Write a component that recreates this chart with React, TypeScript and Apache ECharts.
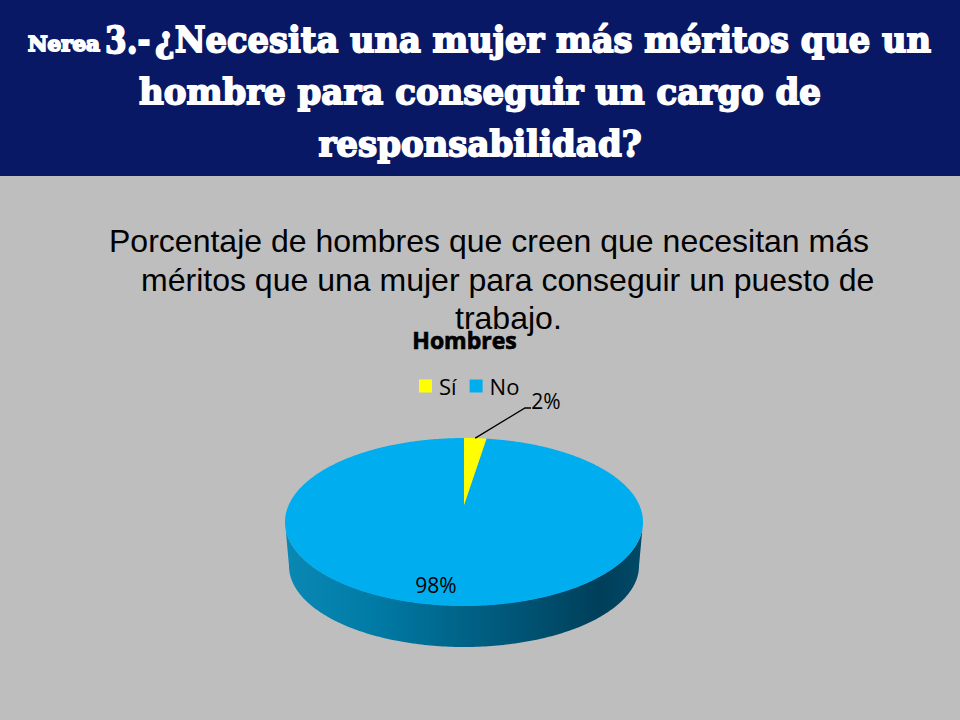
import React, { useEffect, useRef } from "react";
import * as echarts from "echarts";

const categories = ["Sí", "No"];
const seriesValues = [2.45, 97.55];
const seriesColors = ["#FFFF00", "#00AEEF"];
const chartTitle = "Hombres";
const headerLines = ["hombre para conseguir un cargo de", "responsabilidad?"];
const bodyLines = [
  "Porcentaje de hombres que creen que necesitan más",
  "méritos que una mujer para conseguir un puesto de",
  "trabajo.",
];

const total = seriesValues.reduce((a, b) => a + b, 0);
const CX = 464;
const CY = 505;
const K = 0.2024;
const A = 80.56;
const B = 175.3;

function project(angle: number): number[] {
  const u = Math.sin(angle);
  const v = Math.cos(angle);
  const w = 1 + K * v;
  return [CX + (B * u) / w, CY - (A * v) / w];
}

function sliceRange(index: number): number[] {
  let before = 0;
  for (let i = 0; i < index; i++) before += seriesValues[i];
  const start = (before / total) * Math.PI * 2;
  const end = ((before + seriesValues[index]) / total) * Math.PI * 2;
  return [start, end];
}

function slicePoints(start: number, end: number): number[][] {
  const pts: number[][] = [[CX, CY]];
  const n = Math.max(8, Math.ceil((end - start) / 0.01));
  for (let i = 0; i <= n; i++) pts.push(project(start + ((end - start) * i) / n));
  return pts;
}

function wallPoints(): number[][] {
  const rx = 179;
  const ry = 83.5;
  const ey = 522;
  const lowRx = 175;
  const lowRy = 81;
  const lowY = 566;
  const pts: number[][] = [];
  for (let i = 0; i <= 180; i++) {
    const t = (Math.PI * i) / 180;
    pts.push([CX + rx * Math.cos(t), ey + ry * Math.sin(t)]);
  }
  for (let i = 180; i >= 0; i--) {
    const t = (Math.PI * i) / 180;
    pts.push([CX + lowRx * Math.cos(t), lowY + lowRy * Math.sin(t)]);
  }
  return pts;
}

function percent(index: number): string {
  return Math.round((seriesValues[index] / total) * 100) + "%";
}

const labelFont = '21px "Open Sans"';

function renderYes(params: any, api: any) {
  const [s, e] = sliceRange(0);
  const mid = project((s + e) / 2);
  return {
    type: "group",
    children: [
      { type: "polygon", shape: { points: slicePoints(s, e) }, style: { fill: api.visual("color") } },
      {
        type: "polyline",
        shape: { points: [mid, [525, 408], [531, 408]] },
        style: { stroke: "#000000", fill: "none", lineWidth: 1.3 },
      },
      {
        type: "text",
        x: 546,
        y: 401,
        style: { text: percent(0), font: labelFont, fill: "#000000", align: "center", verticalAlign: "middle" },
      },
    ],
  };
}

function renderNo(params: any, api: any) {
  const [s, e] = sliceRange(1);
  return {
    type: "group",
    children: [
      {
        type: "polygon",
        shape: { points: wallPoints() },
        style: {
          fill: new echarts.graphic.LinearGradient(0, 0, 1, 0, [
            { offset: 0, color: "#0A88B4" },
            { offset: 0.25, color: "#007BA6" },
            { offset: 0.5, color: "#006387" },
            { offset: 0.88, color: "#003F5A" },
            { offset: 1, color: "#004A68" },
          ]),
        },
      },
      { type: "polygon", shape: { points: slicePoints(s, e) }, style: { fill: api.visual("color") } },
      {
        type: "text",
        x: 436,
        y: 585,
        style: { text: percent(1), font: labelFont, fill: "#000000", align: "center", verticalAlign: "middle" },
      },
    ],
  };
}

const headFont = 'bold 36px "DejaVu Serif"';
const headText = (text: string, x: number, y: number, align: string, scaleX: number, font = headFont) => ({
  type: "text",
  x,
  y,
  scaleX,
  style: { text, font, fill: "#FFFFFF", stroke: "#FFFFFF", lineWidth: 1.8, align, verticalAlign: "middle" },
});
const bodyText = (text: string, x: number, y: number) => ({
  type: "text",
  x,
  y,
  scaleX: 1.05,
  style: { text, font: '30.5px "Liberation Sans"', fill: "#000000", align: "left", verticalAlign: "middle" },
});

export default function App() {
  const ref = useRef<HTMLDivElement>(null);
  useEffect(() => {
    document.body.style.margin = "0";
    const chart = echarts.init(ref.current!, null, { renderer: "svg" });
    chart.setOption({
      animation: false,
      backgroundColor: "#BEBEBE",
      title: {
        text: chartTitle,
        left: 464.5,
        top: 328,
        padding: 0,
        textAlign: "center",
        textStyle: {
          fontFamily: "Open Sans",
          fontSize: 23,
          fontWeight: "bold",
          color: "#000000",
          textBorderColor: "#000000",
          textBorderWidth: 0.7,
        },
      },
      legend: {
        data: categories,
        left: 419,
        top: 375,
        padding: 0,
        icon: "rect",
        itemWidth: 13,
        itemHeight: 13,
        itemGap: 13,
        selectedMode: false,
        textStyle: { fontFamily: "Open Sans", fontSize: 22, color: "#000000", padding: [0, 0, 0, 2] },
      },
      graphic: [
        { type: "rect", z: 0, shape: { x: 0, y: 0, width: 960, height: 176 }, style: { fill: "#081864" } },
        headText("Nerea", 28, 44, "left", 1.07, 'bold 20px "DejaVu Serif"'),
        headText("3.-", 105, 39, "left", 0.82, 'bold 38px "DejaVu Serif"'),
        headText("¿Necesita una mujer más méritos que un", 155, 39, "left", 0.937),
        headText(headerLines[0], 480, 91, "center", 0.945),
        headText(headerLines[1], 480, 143, "center", 0.945),
        bodyText(bodyLines[0], 109, 242),
        bodyText(bodyLines[1], 141, 281),
        bodyText(bodyLines[2], 455, 319),
      ],
      series: [
        {
          type: "custom",
          name: categories[0],
          coordinateSystem: "none",
          z: 3,
          silent: true,
          itemStyle: { color: seriesColors[0] },
          renderItem: renderYes,
          data: [[seriesValues[0]]],
        },
        {
          type: "custom",
          name: categories[1],
          coordinateSystem: "none",
          z: 2,
          silent: true,
          itemStyle: { color: seriesColors[1] },
          renderItem: renderNo,
          data: [[seriesValues[1]]],
        },
      ],
    });
    return () => chart.dispose();
  }, []);
  return <div ref={ref} style={{ width: 960, height: 720 }} />;
}
